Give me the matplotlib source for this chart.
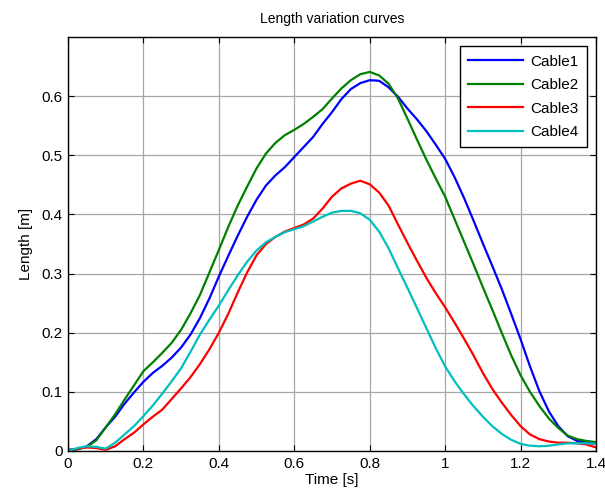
import matplotlib
matplotlib.use("Agg")
import matplotlib.pyplot as plt
from matplotlib.ticker import FuncFormatter

time_s = [0.000, 0.025, 0.050, 0.075, 0.100, 0.125, 0.150, 0.175, 0.200, 0.225,
          0.250, 0.275, 0.300, 0.325, 0.350, 0.375, 0.400, 0.425, 0.450, 0.475,
          0.500, 0.525, 0.550, 0.575, 0.600, 0.625, 0.650, 0.675, 0.700, 0.725,
          0.750, 0.775, 0.800, 0.825, 0.850, 0.875, 0.900, 0.925, 0.950, 0.975,
          1.000, 1.025, 1.050, 1.075, 1.100, 1.125, 1.150, 1.175, 1.200, 1.225,
          1.250, 1.275, 1.300, 1.325, 1.350, 1.375, 1.400]

cable1 = [0.002, 0.003, 0.008, 0.020, 0.040, 0.058, 0.080, 0.099, 0.117, 0.132,
          0.144, 0.158, 0.175, 0.197, 0.225, 0.258, 0.295, 0.330, 0.364, 0.396,
          0.425, 0.449, 0.466, 0.480, 0.497, 0.514, 0.531, 0.553, 0.573, 0.595,
          0.612, 0.622, 0.627, 0.626, 0.615, 0.599, 0.579, 0.561, 0.541, 0.518,
          0.494, 0.463, 0.428, 0.390, 0.351, 0.313, 0.274, 0.232, 0.189, 0.143,
          0.101, 0.067, 0.042, 0.025, 0.017, 0.014, 0.012]

cable2 = [0.002, 0.003, 0.007, 0.018, 0.040, 0.062, 0.087, 0.111, 0.135, 0.150,
          0.166, 0.183, 0.205, 0.233, 0.264, 0.302, 0.340, 0.379, 0.415, 0.447,
          0.478, 0.503, 0.521, 0.534, 0.543, 0.553, 0.565, 0.578, 0.596, 0.613,
          0.627, 0.637, 0.641, 0.635, 0.621, 0.596, 0.562, 0.527, 0.493, 0.461,
          0.430, 0.392, 0.354, 0.316, 0.277, 0.239, 0.200, 0.162, 0.128, 0.100,
          0.076, 0.055, 0.039, 0.026, 0.020, 0.017, 0.015]

cable3 = [0.000, 0.004, 0.006, 0.005, 0.002, 0.008, 0.020, 0.031, 0.045, 0.058,
          0.070, 0.088, 0.106, 0.125, 0.147, 0.172, 0.200, 0.232, 0.268, 0.302,
          0.331, 0.350, 0.362, 0.371, 0.377, 0.383, 0.393, 0.410, 0.430, 0.444,
          0.452, 0.457, 0.451, 0.437, 0.415, 0.383, 0.352, 0.322, 0.293, 0.267,
          0.243, 0.217, 0.190, 0.162, 0.132, 0.105, 0.082, 0.061, 0.042, 0.028,
          0.020, 0.016, 0.014, 0.014, 0.013, 0.011, 0.006]

cable4 = [0.000, 0.005, 0.008, 0.007, 0.004, 0.014, 0.028, 0.042, 0.059, 0.077,
          0.097, 0.118, 0.140, 0.168, 0.197, 0.222, 0.246, 0.272, 0.297, 0.320,
          0.339, 0.353, 0.362, 0.370, 0.375, 0.380, 0.388, 0.396, 0.403, 0.406,
          0.406, 0.402, 0.391, 0.371, 0.343, 0.309, 0.276, 0.242, 0.208, 0.174,
          0.143, 0.118, 0.096, 0.076, 0.058, 0.042, 0.029, 0.019, 0.012, 0.009,
          0.008, 0.009, 0.011, 0.013, 0.013, 0.013, 0.012]

series_names = ["Cable1", "Cable2", "Cable3", "Cable4"]
series_colors = ["#0000ff", "#008000", "#ff0000", "#00bfbf"]

x_ticks = [0, 0.2, 0.4, 0.6, 0.8, 1.0, 1.2, 1.4]
y_ticks = [0, 0.1, 0.2, 0.3, 0.4, 0.5, 0.6]

plt.rcParams["font.family"] = ["Liberation Sans", "DejaVu Sans"]

fig = plt.figure(figsize=(6.05, 4.97), dpi=100)
ax = fig.add_axes([68 / 605, 46 / 497, 528 / 605, 414 / 497])

for values, name, color in zip([cable1, cable2, cable3, cable4], series_names, series_colors):
    ax.plot(time_s, values, color=color, linewidth=1.6, label=name)

ax.set_xlim(0, 1.4)
ax.set_ylim(0, 0.7)
ax.set_xticks(x_ticks)
ax.set_yticks(y_ticks)
fmt = FuncFormatter(lambda v, _: f"{v:g}")
ax.xaxis.set_major_formatter(fmt)
ax.yaxis.set_major_formatter(fmt)

ax.grid(True, color="#a6a6a6", linewidth=0.9, linestyle="-")
ax.set_axisbelow(True)
ax.tick_params(direction="in", length=4, width=0.8, top=True, right=True,
               labelsize=11, pad=4, color="black")
for spine in ax.spines.values():
    spine.set_color("black")
    spine.set_linewidth(1.0)

ax.set_xlabel("Time [s]", fontsize=11, labelpad=2)
ax.set_ylabel("Length [m]", fontsize=11, labelpad=6)
ax.set_title("Length variation curves", fontsize=10, pad=10)

leg = ax.legend(loc="upper right", fontsize=11, frameon=True, fancybox=False,
                edgecolor="black", framealpha=1, handlelength=3.6,
                borderaxespad=0.6, borderpad=0.55, labelspacing=0.62,
                handletextpad=0.45)
leg.get_frame().set_linewidth(1.0)

fig.savefig("out.png", dpi=100)
